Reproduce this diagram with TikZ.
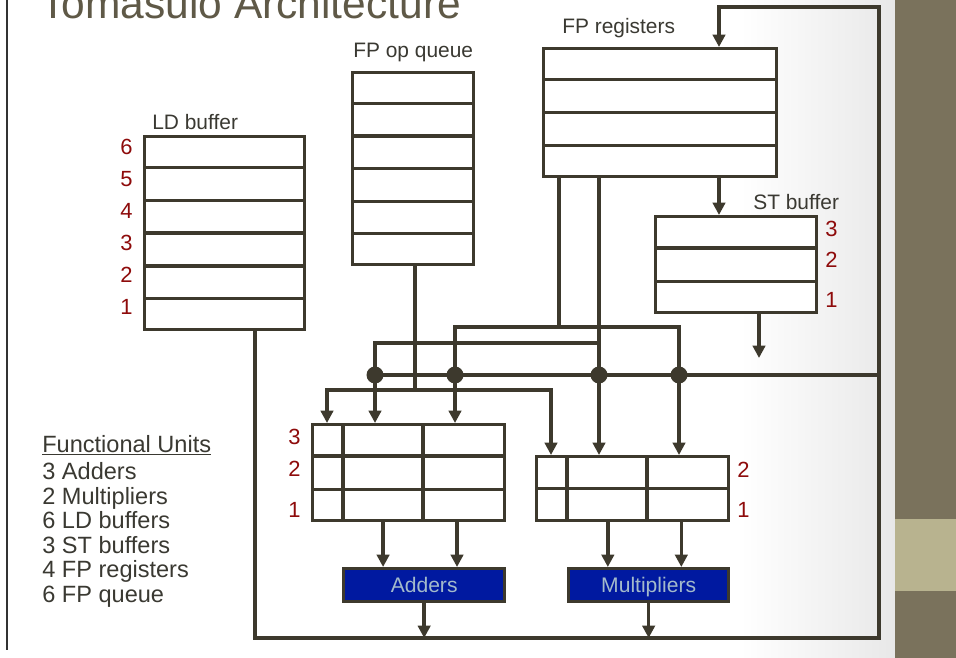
\documentclass[tikz,border=0pt]{standalone}
\usepackage{fontspec}
\setmainfont{Liberation Sans}
\usetikzlibrary{arrows.meta,calc}
\definecolor{wirec}{HTML}{3D392D}
\definecolor{numred}{HTML}{8E0B0B}
\definecolor{unitblue}{HTML}{0019A0}
\definecolor{unittext}{HTML}{A3BACB}
\definecolor{titlec}{HTML}{5F5947}
\definecolor{bandc}{HTML}{7A725C}
\definecolor{bandlt}{HTML}{B8B38F}
\definecolor{txtc}{HTML}{3A3932}

\begin{document}
\begin{tikzpicture}[x=0.02cm, y=-0.02cm,
    wire/.style={draw=wirec, line width=1.9pt},
    arr/.style={wire, -{Triangle[width=7pt,length=7pt]}},
    arrtwo/.style={wire, {Triangle[width=7pt,length=7pt]}-{Triangle[width=7pt,length=7pt]}},
    regbox/.style={draw=wirec, line width=1.9pt, fill=white, rectangle, anchor=north west, inner sep=0pt},
    fubox/.style={draw=wirec, line width=1.9pt, fill=unitblue, text=unittext, anchor=north west, inner sep=0pt, text height=8.6pt, text depth=0pt, font=\fontsize{12}{14}\selectfont},
    lbl/.style={anchor=base west, inner sep=0pt, text=txtc, font=\fontsize{11.9}{14}\selectfont},
    rednum/.style={anchor=base west, inner sep=0pt, text=numred, font=\fontsize{12.5}{14}\selectfont},
    legtext/.style={anchor=base west, inner sep=0pt, text=txtc, font=\fontsize{13.4}{16}\selectfont},
    junc/.style={circle, fill=wirec, inner sep=0pt, minimum size=0.34cm}]
    \useasboundingbox (0,0) rectangle (956,658);
    \clip (0,0) rectangle (956,658);

    % Slide background
    \fill[white] (0,0) rectangle (740,658);
    \shade[left color=white, right color=black!9] (740,0) rectangle (895,658);
    \fill[bandc] (895,0) rectangle (956,658);
    \fill[bandlt] (895,519) rectangle (956,591);
    \draw[black!80, line width=1.1pt] (7,0) -- (7,650);
    \node[anchor=base west, inner sep=0pt, text=titlec, font=\fontsize{24.2}{29}\selectfont] (title) at (40,19) {Tomasulo Architecture};

    % LD buffer
    \node[regbox, minimum width=3.2cm, minimum height=3.86cm] (ld) at (143,135) {};
    \foreach \i in {1,...,5}
        \draw[wire] ($(ld.north west)!\i/6!(ld.south west)$) -- ($(ld.north east)!\i/6!(ld.south east)$);
    \foreach \n [count=\i] in {6,5,4,3,2,1}
        \node[rednum, anchor=base east] (ldn\n) at ($(ld.north west)+(-10,32*\i-12)$) {\n};
    \node[lbl] (ldlbl) at (152,130) {LD buffer};

    % FP op queue
    \node[regbox, minimum width=2.42cm, minimum height=3.84cm] (opq) at (351,71) {};
    \foreach \i in {1,...,5}
        \draw[wire] ($(opq.north west)!\i/6!(opq.south west)$) -- ($(opq.north east)!\i/6!(opq.south east)$);
    \node[lbl] (opqlbl) at (353,58) {FP op queue};

    % FP registers
    \node[regbox, minimum width=4.66cm, minimum height=2.56cm] (fpr) at (542,47) {};
    \foreach \i in {1,2,3}
        \draw[wire] ($(fpr.north west)!\i/4!(fpr.south west)$) -- ($(fpr.north east)!\i/4!(fpr.south east)$);
    \node[lbl] (fprlbl) at (562,34) {FP registers};

    % ST buffer
    \node[regbox, minimum width=3.22cm, minimum height=1.92cm] (stb) at (654,215) {};
    \foreach \i in {1,2}
        \draw[wire] ($(stb.north west)!\i/3!(stb.south west)$) -- ($(stb.north east)!\i/3!(stb.south east)$);
    \node[lbl] (stblbl) at (753,210) {ST buffer};
    \node[rednum] (stn3) at (825,237) {3};
    \node[rednum] (stn2) at (825,268) {2};
    \node[rednum] (stn1) at (825,308) {1};

    % Reservation stations (adders)
    \node[regbox, minimum width=3.84cm, minimum height=1.92cm] (addrs) at (311,423) {};
    \foreach \i in {1,2}
        \draw[wire] ($(addrs.north west)!\i/3!(addrs.south west)$) -- ($(addrs.north east)!\i/3!(addrs.south east)$);
    \foreach \c in {32,112}
        \draw[wire] ($(addrs.north west)+(\c,0)$) -- ($(addrs.south west)+(\c,0)$);
    \node[rednum, anchor=base east] (addn3) at (301,444) {3};
    \node[rednum, anchor=base east] (addn2) at (301,476) {2};
    \node[rednum, anchor=base east] (addn1) at (301,517) {1};

    % Reservation stations (multipliers)
    \node[regbox, minimum width=3.84cm, minimum height=1.28cm] (mulrs) at (535,455) {};
    \draw[wire] ($(mulrs.north west)!0.5!(mulrs.south west)$) -- ($(mulrs.north east)!0.5!(mulrs.south east)$);
    \foreach \c in {32,112}
        \draw[wire] ($(mulrs.north west)+(\c,0)$) -- ($(mulrs.south west)+(\c,0)$);
    \node[rednum] (muln2) at (737,477) {2};
    \node[rednum] (muln1) at (737,517) {1};

    % Functional units
    \node[fubox, minimum width=3.22cm, minimum height=0.66cm] (adders) at (342,567) {Adders};
    \node[fubox, minimum width=3.2cm, minimum height=0.66cm] (mults) at (567,567) {Multipliers};

    % Stations to units
    \coordinate (a1) at ($(adders.north west)!0.25!(adders.north east)$);
    \coordinate (a2) at ($(adders.north west)!0.7!(adders.north east)$);
    \coordinate (m1) at ($(mults.north west)!0.25!(mults.north east)$);
    \coordinate (m2) at ($(mults.north west)!0.7!(mults.north east)$);
    \draw[arr] (a1 |- addrs.south) -- (a1);
    \draw[arr] (a2 |- addrs.south) -- (a2);
    \draw[arr] (m1 |- mulrs.south) -- (m1);
    \draw[arr] (m2 |- mulrs.south) -- (m2);

    % Result bus and feedback to FP registers
    \coordinate (busL) at (255,638);
    \coordinate (busR) at (879,638);
    \coordinate (topR) at (879,7);
    \coordinate (topL) at (719,7);
    \draw[arr] (adders.south) -- (adders.south |- busL);
    \draw[arr] (mults.south) -- (mults.south |- busL);
    \draw[arr] (ld.south -| busL) -- (busL) -| (topR) -| (topL |- fpr.north);

    % FP registers to ST buffer
    \coordinate (stout) at (759,358);
    \draw[arr] (fpr.south -| topL) -- (stb.north -| topL);
    \draw[arr] (stb.south -| stout) -- (stout);

    % Common data bus
    \coordinate (cdbR) at (879,375);
    \node[junc] (j1) at (375,375) {};
    \node[junc] (j2) at (455,375) {};
    \node[junc] (j3) at (599,375) {};
    \node[junc] (j4) at (679,375) {};
    \draw[wire] (j1.center) -- (cdbR);

    % Operands from FP registers
    \coordinate (ra) at (559,327);
    \coordinate (rb) at (599,343);
    \draw[wire] (fpr.south -| ra) -- (ra);
    \draw[arrtwo] (j2 |- addrs.north) -- (j2 |- ra) -- (j4 |- ra) -- (j4 |- mulrs.north);
    \draw[arr] (fpr.south -| j3) -- (j3 |- mulrs.north);
    \draw[arr] (j3 |- rb) -- (j1 |- rb) -- (j1 |- addrs.north);

    % Operations from FP op queue
    \coordinate (qo) at (415,390);
    \coordinate (qa) at (327,390);
    \coordinate (qb) at (551,390);
    \draw[wire] (opq.south -| qo) -- (qo);
    \draw[arrtwo] (qa |- addrs.north) -- (qa) -- (qb) -- (qb |- mulrs.north);

    % Legend
    \node[legtext] (fu) at (42,452) {\underline{Functional Units}};
    \foreach \t [count=\i] in {3 Adders, 2 Multipliers, 6 LD buffers, 3 ST buffers, 4 FP registers, 6 FP queue}
        \node[legtext] (leg\i) at (42,455+24.5*\i) {\t};
\end{tikzpicture}
\end{document}
